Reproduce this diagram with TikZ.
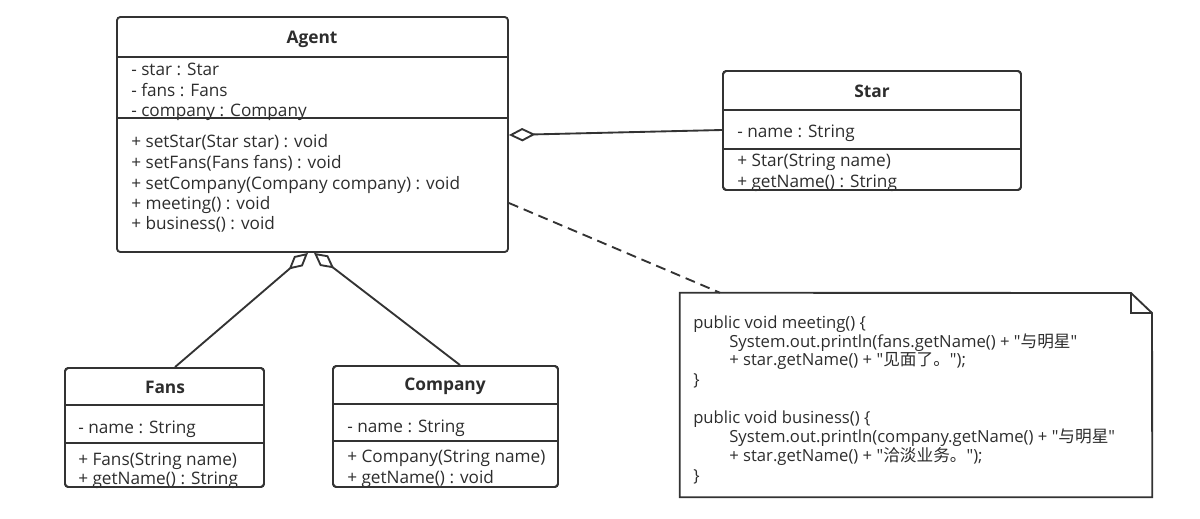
\documentclass[tikz,border=0pt]{standalone}
\usepackage{fontspec}
\setmainfont{Open Sans}[Ligatures=TeXOff]
\newfontfamily\cjk{Noto Sans CJK SC}
\usetikzlibrary{arrows.meta,fit}
\definecolor{ink}{RGB}{51,51,51}
\definecolor{txt}{RGB}{45,45,45}
\begin{document}
\begin{tikzpicture}[x=0.75pt,y=-0.75pt,
  classbox/.style={draw=ink, line width=1.4pt, rounded corners=2.5pt, inner sep=0pt},
  sepline/.style={draw=ink, line width=1.4pt},
  member/.style={anchor=base west, inner sep=0pt, text=txt, font=\fontsize{12.9}{14}\selectfont},
  ctitle/.style={inner sep=0pt, text=txt, font=\fontsize{13}{15}\selectfont\bfseries},
  codeline/.style={anchor=base west, inner sep=0pt, text=txt, font=\fontsize{12.5}{14}\selectfont},
  agg/.style={draw=ink, line width=1.4pt, {Diamond[open,length=20pt,width=10pt]}-},
  aggsmall/.style={draw=ink, line width=1.4pt, {Diamond[open,length=19pt,width=10pt]}-},
  dep/.style={draw=ink, line width=1.4pt, dash pattern=on 7.5pt off 4.5pt}]
\useasboundingbox (0,0) rectangle (1200,518);

% ---------- Agent ----------
\node[classbox, fit={(117,17) (508,252)}] (agent) {};
\node[ctitle] (agentT) at (312,39) {Agent};
\node[member] (agentA1) at (131,75) {- star : Star};
\node[member] (agentA2) at (131,96) {- fans : Fans};
\node[member] (agentA3) at (131,116.5) {- company : Company};
\node[member] (agentM1) at (131,147.5) {+ setStar(Star star) : void};
\node[member] (agentM2) at (131,168) {+ setFans(Fans fans) : void};
\node[member] (agentM3) at (131,189) {+ setCompany(Company company) : void};
\node[member] (agentM4) at (131,209.5) {+ meeting() : void};
\node[member] (agentM5) at (131,229.5) {+ business() : void};
\draw[sepline] (agent.west |- 0,57) -- (agent.east |- 0,57);
\draw[sepline] (agent.west |- 0,118) -- (agent.east |- 0,118);

% ---------- Star ----------
\node[classbox, fit={(723,71) (1021,190)}] (star) {};
\node[ctitle] (starT) at (872,91) {Star};
\node[member] (starA1) at (737,137) {- name : String};
\node[member] (starM1) at (737,166.5) {+ Star(String name)};
\node[member] (starM2) at (737,187) {+ getName() : String};
\draw[sepline] (star.west |- 0,110) -- (star.east |- 0,110);
\draw[sepline] (star.west |- 0,149) -- (star.east |- 0,149);
\draw[classbox] (723,71) rectangle (1021,190);

% ---------- Fans ----------
\node[classbox, fit={(65,368) (264,487)}] (fans) {};
\node[ctitle] (fansT) at (165,387) {Fans};
\node[member] (fansA1) at (78,433) {- name : String};
\node[member] (fansM1) at (78,465) {+ Fans(String name)};
\node[member] (fansM2) at (78,484.5) {+ getName() : String};
\draw[sepline] (fans.west |- 0,405) -- (fans.east |- 0,405);
\draw[sepline] (fans.west |- 0,443) -- (fans.east |- 0,443);
\draw[classbox] (65,368) rectangle (264,487);

% ---------- Company ----------
\node[classbox, fit={(333,366) (558,487)}] (company) {};
\node[ctitle] (companyT) at (445,386) {Company};
\node[member] (companyA1) at (347,432) {- name : String};
\node[member] (companyM1) at (347,462) {+ Company(String name)};
\node[member] (companyM2) at (347,483) {+ getName() : void};
\draw[sepline] (company.west |- 0,404) -- (company.east |- 0,404);
\draw[sepline] (company.west |- 0,441) -- (company.east |- 0,441);
\draw[classbox] (333,366) rectangle (558,487);

% ---------- Note ----------
\node[inner sep=0pt, fit={(680,293) (1152,497)}] (note) {};
\draw[draw=ink, line width=1.4pt, line join=miter]
  (note.north west) -- (1131,293) -- (1152,313) -- (note.south east) -- (note.south west) -- cycle;
\draw[draw=ink, line width=1.4pt] (1131,293) -- (1131,313) -- (1152,313);
\node[codeline] (n1) at (693,328) {public void meeting() \{};
\node[codeline] (n2) at (729,347) {System.out.println(fans.getName() + "{\cjk 与明星}"};
\node[codeline] (n3) at (729,365) {+ star.getName() + "{\cjk 见面了。}");};
\node[codeline] (n4) at (693,385) {\}};
\node[codeline] (n5) at (693,423) {public void business() \{};
\node[codeline] (n6) at (729,442) {System.out.println(company.getName() + "{\cjk 与明星}"};
\node[codeline] (n7) at (729,461) {+ star.getName() + "{\cjk 洽淡业务。}");};
\node[codeline] (n8) at (693,481) {\}};

% ---------- Connectors ----------
\draw[agg] (agent.east |- 0,135) -- (star.west |- 0,130);
\draw[aggsmall] (agent.south -| 308,0) -- (fans.north -| 175,0);
\draw[aggsmall] (agent.south -| 314,0) -- (company.north -| 460,0);
\draw[dep] (agent.east |- 0,203) -- (note.north west -| 720,0);
\end{tikzpicture}
\end{document}
